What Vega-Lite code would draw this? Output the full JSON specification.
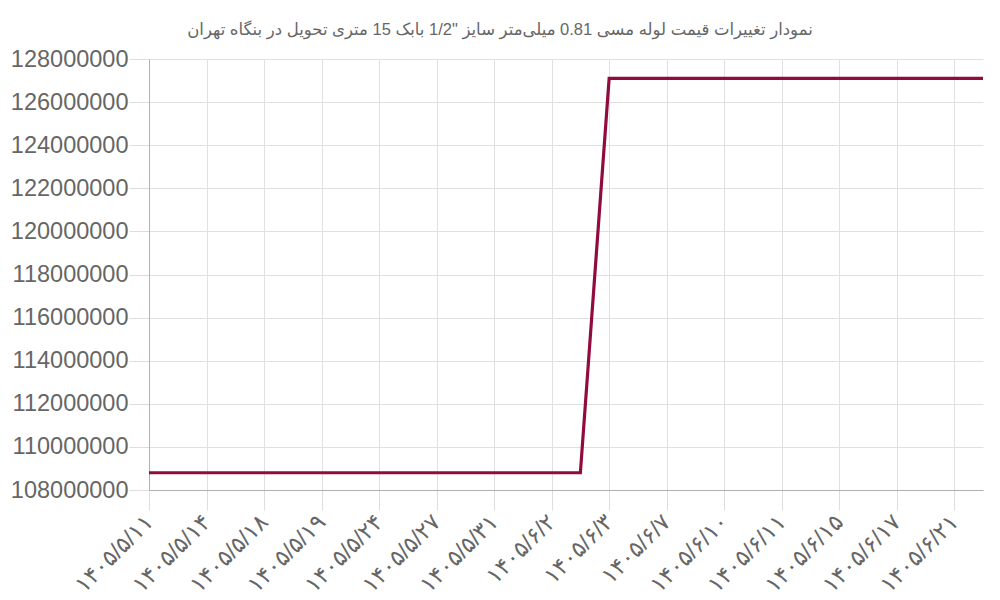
{
  "$schema": "https://vega.github.io/schema/vega-lite/v6.json",
  "autosize": "none",
  "width": 834,
  "height": 431,
  "padding": {"left": 149, "top": 59, "right": 17, "bottom": 110},
  "background": "white",
  "title": {
    "text": "نمودار تغییرات قیمت لوله مسی 0.81 میلی‌متر سایز \"1/2 بابک 15 متری تحویل در بنگاه تهران",
    "font": "Liberation Sans, DejaVu Sans",
    "fontSize": 16.5,
    "fontWeight": "normal",
    "color": "#666666",
    "anchor": "middle",
    "dx": -66,
    "offset": 9
  },
  "data": {
    "values": [
      {"date": "۱۴۰۵/۵/۱۱", "price": 108800000},
      {"date": "۱۴۰۵/۵/۱۲", "price": 108800000},
      {"date": "۱۴۰۵/۵/۱۴", "price": 108800000},
      {"date": "۱۴۰۵/۵/۱۷", "price": 108800000},
      {"date": "۱۴۰۵/۵/۱۸", "price": 108800000},
      {"date": "۱۴۰۵/۵/۱۸ (۲)", "price": 108800000},
      {"date": "۱۴۰۵/۵/۱۹", "price": 108800000},
      {"date": "۱۴۰۵/۵/۲۱", "price": 108800000},
      {"date": "۱۴۰۵/۵/۲۴", "price": 108800000},
      {"date": "۱۴۰۵/۵/۲۵", "price": 108800000},
      {"date": "۱۴۰۵/۵/۲۷", "price": 108800000},
      {"date": "۱۴۰۵/۵/۲۸", "price": 108800000},
      {"date": "۱۴۰۵/۵/۳۱", "price": 108800000},
      {"date": "۱۴۰۵/۶/۱", "price": 108800000},
      {"date": "۱۴۰۵/۶/۲", "price": 108800000},
      {"date": "۱۴۰۵/۶/۲ (۲)", "price": 108800000},
      {"date": "۱۴۰۵/۶/۳", "price": 127100000},
      {"date": "۱۴۰۵/۶/۴", "price": 127100000},
      {"date": "۱۴۰۵/۶/۷", "price": 127100000},
      {"date": "۱۴۰۵/۶/۸", "price": 127100000},
      {"date": "۱۴۰۵/۶/۱۰", "price": 127100000},
      {"date": "۱۴۰۵/۶/۱۰ (۲)", "price": 127100000},
      {"date": "۱۴۰۵/۶/۱۱", "price": 127100000},
      {"date": "۱۴۰۵/۶/۱۴", "price": 127100000},
      {"date": "۱۴۰۵/۶/۱۵", "price": 127100000},
      {"date": "۱۴۰۵/۶/۱۶", "price": 127100000},
      {"date": "۱۴۰۵/۶/۱۷", "price": 127100000},
      {"date": "۱۴۰۵/۶/۱۸", "price": 127100000},
      {"date": "۱۴۰۵/۶/۲۱", "price": 127100000},
      {"date": "۱۴۰۵/۶/۲۴", "price": 127100000}
    ]
  },
  "mark": {"type": "line", "color": "#900C3F", "strokeWidth": 3.2, "clip": false},
  "encoding": {
    "x": {
      "field": "date",
      "type": "ordinal",
      "sort": null,
      "scale": {"type": "point", "padding": 0},
      "axis": {
        "title": null,
        "values": ["۱۴۰۵/۵/۱۱", "۱۴۰۵/۵/۱۴", "۱۴۰۵/۵/۱۸", "۱۴۰۵/۵/۱۹", "۱۴۰۵/۵/۲۴", "۱۴۰۵/۵/۲۷", "۱۴۰۵/۵/۳۱", "۱۴۰۵/۶/۲", "۱۴۰۵/۶/۳", "۱۴۰۵/۶/۷", "۱۴۰۵/۶/۱۰", "۱۴۰۵/۶/۱۱", "۱۴۰۵/۶/۱۵", "۱۴۰۵/۶/۱۷", "۱۴۰۵/۶/۲۱"],
        "labelAngle": -45,
        "labelAlign": "right",
        "labelBaseline": "middle",
        "labelFont": "Liberation Sans, DejaVu Sans",
        "labelFontSize": 23,
        "labelColor": "#666666",
        "labelPadding": 8,
        "tickSize": 20,
        "tickColor": "#dddddd",
        "grid": true,
        "gridColor": "#e0e0e0",
        "domainColor": "#b0b0b0",
        "labelOverlap": false
      }
    },
    "y": {
      "field": "price",
      "type": "quantitative",
      "scale": {"domain": [108000000, 128000000], "nice": false, "zero": false},
      "axis": {
        "title": null,
        "values": [108000000, 110000000, 112000000, 114000000, 116000000, 118000000, 120000000, 122000000, 124000000, 126000000, 128000000],
        "format": "d",
        "labelFont": "Liberation Sans, DejaVu Sans",
        "labelFontSize": 23.5,
        "labelColor": "#666666",
        "labelPadding": 1,
        "tickSize": 20,
        "tickColor": "#dddddd",
        "grid": true,
        "gridColor": "#e0e0e0",
        "domainColor": "#b0b0b0"
      }
    }
  },
  "config": {"view": {"stroke": null}}
}
